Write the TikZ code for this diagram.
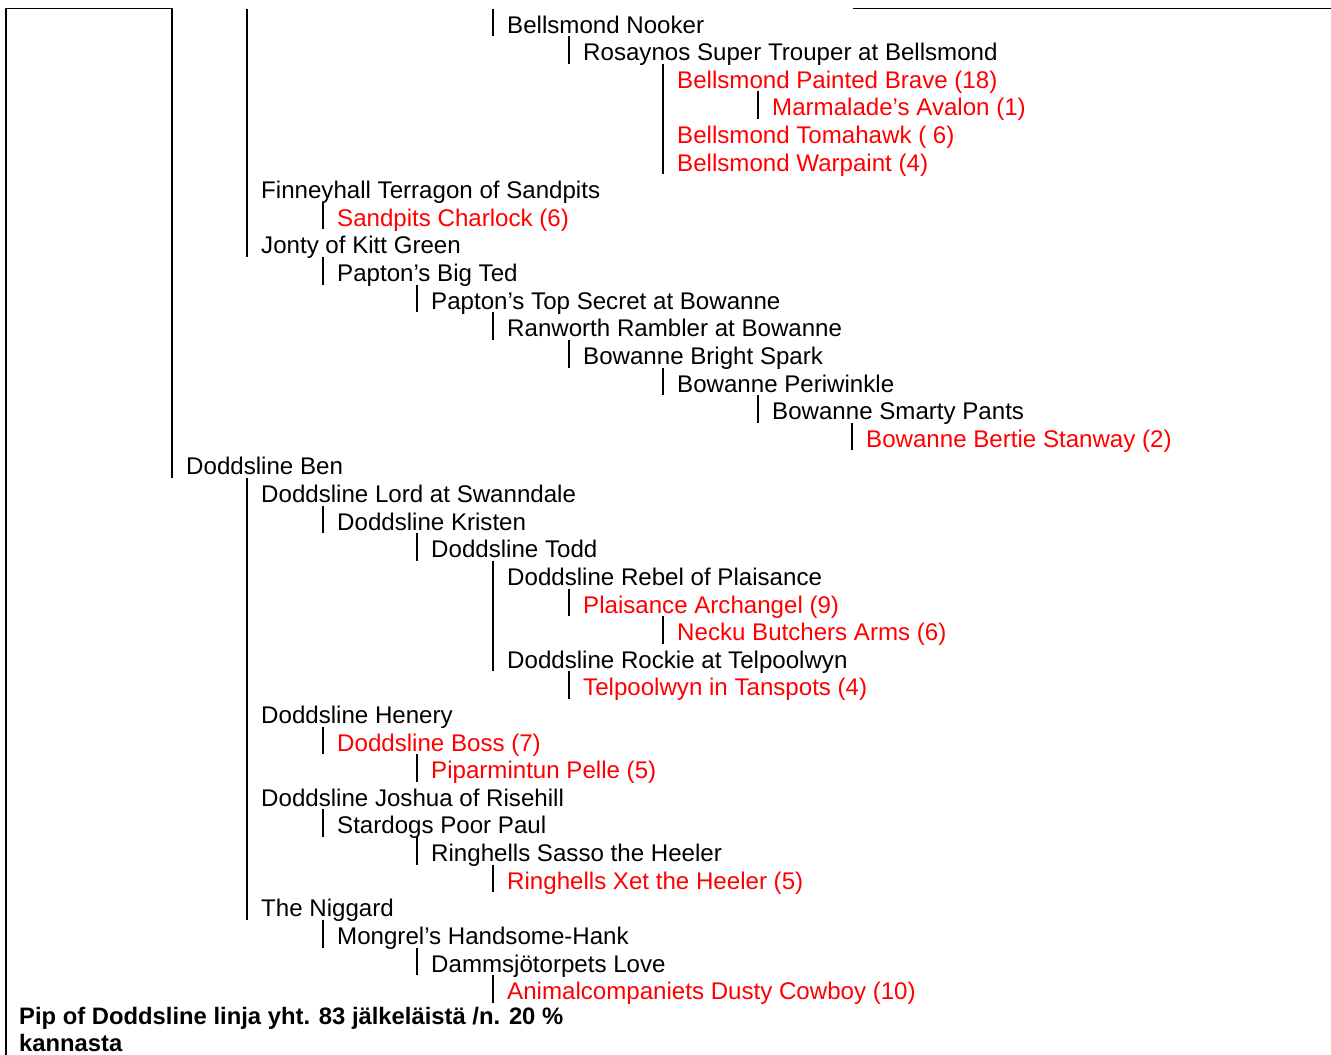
\documentclass[tikz,border=0pt]{standalone}
\usepackage{fontspec}
\setmainfont{Liberation Sans}
\definecolor{redtxt}{RGB}{255,0,0}
\newcommand\entry[4]{% row, bar x, style, text
  \node[#3] (r#1) at ({#2+14},{33+27.62*#1}) {#4};}
\newcommand\vbar[3]{% x, first row, last row
  \draw[rule] (#1,{8.5+27.62*#2}) -- (#1,{8.5+27.62*(#3+1)});}
\begin{document}
\begin{tikzpicture}[x=1pt,y=-1pt,
  rule/.style={line width=1.7pt},
  blk/.style={anchor=base west,inner sep=0pt,font=\fontsize{24.1}{27}\selectfont,text=black},
  rd/.style={blk,text=redtxt},
  bd/.style={blk,font=\fontsize{23.8}{27}\selectfont\bfseries}]
\useasboundingbox (0,0) rectangle (1331,1055);
% table borders
\draw[rule] (6,1056) -- (6,8.5) -- (172,8.5) -- (172,{8.5+27.62*17});
\draw[rule] (853,8.5) -- (1331,8.5);
\vbar{247}{0}{8}
\vbar{247}{17}{32}
% short bars
\vbar{493}{0}{0}
\vbar{569}{1}{1}
\vbar{663}{2}{5}
\vbar{758}{3}{3}
\vbar{323}{7}{7}
\vbar{323}{9}{9}
\vbar{417}{10}{10}
\vbar{493}{11}{11}
\vbar{569}{12}{12}
\vbar{663}{13}{13}
\vbar{758}{14}{14}
\vbar{852}{15}{15}
\vbar{323}{18}{18}
\vbar{417}{19}{19}
\vbar{493}{20}{23}
\vbar{569}{21}{21}
\vbar{663}{22}{22}
\vbar{569}{24}{24}
\vbar{323}{26}{26}
\vbar{417}{27}{27}
\vbar{323}{29}{29}
\vbar{417}{30}{30}
\vbar{493}{31}{31}
\vbar{323}{33}{33}
\vbar{417}{34}{34}
\vbar{493}{35}{35}
% entries
\entry{0}{493}{blk}{Bellsmond Nooker}
\entry{1}{569}{blk}{Rosaynos Super Trouper at Bellsmond}
\entry{2}{663}{rd}{Bellsmond Painted Brave (18)}
\entry{3}{758}{rd}{Marmalade’s Avalon (1)}
\entry{4}{663}{rd}{Bellsmond Tomahawk ( 6)}
\entry{5}{663}{rd}{Bellsmond Warpaint (4)}
\entry{6}{247}{blk}{Finneyhall Terragon of Sandpits}
\entry{7}{323}{rd}{Sandpits Charlock (6)}
\entry{8}{247}{blk}{Jonty of Kitt Green}
\entry{9}{323}{blk}{Papton’s Big Ted}
\entry{10}{417}{blk}{Papton’s Top Secret at Bowanne}
\entry{11}{493}{blk}{Ranworth Rambler at Bowanne}
\entry{12}{569}{blk}{Bowanne Bright Spark}
\entry{13}{663}{blk}{Bowanne Periwinkle}
\entry{14}{758}{blk}{Bowanne Smarty Pants}
\entry{15}{852}{rd}{Bowanne Bertie Stanway (2)}
\entry{16}{172}{blk}{Doddsline Ben}
\entry{17}{247}{blk}{Doddsline Lord at Swanndale}
\entry{18}{323}{blk}{Doddsline Kristen}
\entry{19}{417}{blk}{Doddsline Todd}
\entry{20}{493}{blk}{Doddsline Rebel of Plaisance}
\entry{21}{569}{rd}{Plaisance Archangel (9)}
\entry{22}{663}{rd}{Necku Butchers Arms (6)}
\entry{23}{493}{blk}{Doddsline Rockie at Telpoolwyn}
\entry{24}{569}{rd}{Telpoolwyn in Tanspots (4)}
\entry{25}{247}{blk}{Doddsline Henery}
\entry{26}{323}{rd}{Doddsline Boss (7)}
\entry{27}{417}{rd}{Piparmintun Pelle (5)}
\entry{28}{247}{blk}{Doddsline Joshua of Risehill}
\entry{29}{323}{blk}{Stardogs Poor Paul}
\entry{30}{417}{blk}{Ringhells Sasso the Heeler}
\entry{31}{493}{rd}{Ringhells Xet the Heeler (5)}
\entry{32}{247}{blk}{The Niggard}
\entry{33}{323}{blk}{Mongrel’s Handsome-Hank}
\entry{34}{417}{blk}{Dammsjötorpets Love}
\entry{35}{493}{rd}{Animalcompaniets Dusty Cowboy (10)}
\node[bd] (r36) at (19,1024.5) {Pip of Doddsline linja yht. 83 jälkeläistä /n. 20 \%};
\node[bd] (r37) at (19,1051) {kannasta};
\end{tikzpicture}
\end{document}
